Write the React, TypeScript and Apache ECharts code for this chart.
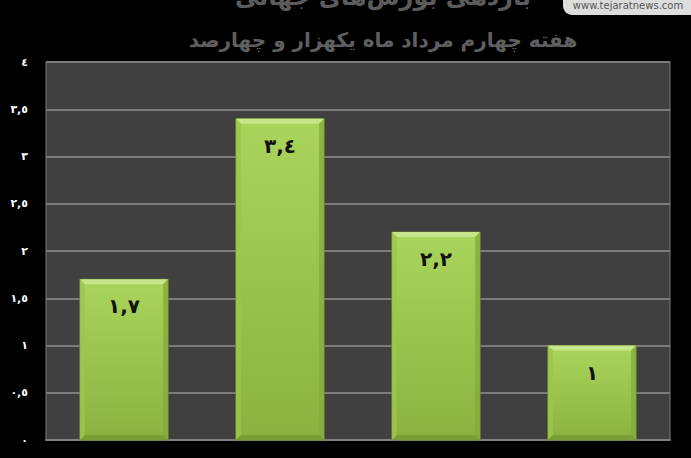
import React, { useEffect, useRef } from "react";
import * as echarts from "echarts";

const categories = ["c1", "c2", "c3", "c4"];
const values = [1.7, 3.4, 2.2, 1];
const yTicks = { min: 0, max: 4, interval: 0.5 };
const titleTop = "بازدهی بورس‌های جهانی";
const subtitle = "هفته چهارم مرداد ماه یکهزار و چهارصد";
const logoText = "www.tejaratnews.com";

const AR = ["٠", "١", "٢", "٣", "٤", "٥", "٦", "٧", "٨", "٩"];
function toAr(n: number): string {
  return String(n)
    .split("")
    .map((c) => (c >= "0" && c <= "9" ? AR[Number(c)] : c === "." ? "," : c))
    .join("");
}

export default function App() {
  const ref = useRef<HTMLDivElement>(null);
  useEffect(() => {
    document.body.style.margin = "0";
    document.body.style.background = "#000";
    const chart = echarts.init(ref.current!, null, { renderer: "svg" });
    const renderItem = (params: any, api: any) => {
      const x = api.value(0);
      const v = api.value(1);
      const p0 = api.coord([x, 0]);
      const p1 = api.coord([x, v]);
      const bw = api.size([1, 0])[0] * 0.565;
      const l = p0[0] - bw / 2;
      const r = l + bw;
      const t = p1[1];
      const b = p0[1];
      const e = 5;
      return {
        type: "group",
        children: [
          {
            type: "rect",
            shape: { x: l, y: t, width: bw, height: b - t },
            style: {
              fill: new echarts.graphic.LinearGradient(0, 0, 0, 1, [
                { offset: 0, color: "#aad55c" },
                { offset: 1, color: "#8bb240" },
              ]),
              stroke: "#6f8f30",
              lineWidth: 1,
            },
          },
          {
            type: "polygon",
            shape: { points: [[l, t], [r, t], [r - e, t + e], [l + e, t + e]] },
            style: { fill: "#c6e68a" },
          },
          {
            type: "polygon",
            shape: { points: [[l, t], [l + e, t + e], [l + e, b - e], [l, b]] },
            style: { fill: "#9cc64e", opacity: 0.8 },
          },
          {
            type: "polygon",
            shape: { points: [[r, t], [r, b], [r - e, b - e], [r - e, t + e]] },
            style: { fill: "#86ad3c", opacity: 0.8 },
          },
          {
            type: "polygon",
            shape: { points: [[l, b], [r, b], [r - e, b - e], [l + e, b - e]] },
            style: { fill: "#7a9e35" },
          },
          {
            type: "text",
            style: {
              text: toAr(v),
              x: (l + r) / 2,
              y: t + 27,
              align: "center",
              verticalAlign: "middle",
              fill: "#111",
              font: "bold 20px 'DejaVu Sans'",
            },
          },
        ],
      };
    };
    chart.setOption({
      animation: false,
      backgroundColor: "#000",
      grid: {
        left: 46,
        right: 21,
        top: 62,
        bottom: 18,
        show: true,
        backgroundColor: "#404040",
        borderColor: "#7a7a7a",
        borderWidth: 1,
      },
      xAxis: {
        type: "category",
        data: categories,
        axisLabel: { show: false },
        axisTick: { show: false },
        axisLine: { lineStyle: { color: "#808080", width: 2 } },
      },
      yAxis: {
        type: "value",
        min: yTicks.min,
        max: yTicks.max,
        interval: yTicks.interval,
        axisLine: { show: false },
        axisTick: { show: false },
        splitLine: { lineStyle: { color: "#7c7c7c", width: 2 } },
        axisLabel: {
          margin: 18,
          color: "#ffffff",
          fontWeight: "bold",
          fontSize: 11,
          fontFamily: "DejaVu Sans",
          formatter: (val: number) => toAr(val),
        },
      },
      series: [
        {
          type: "custom",
          renderItem,
          data: values.map((v, i) => [i, v]),
        },
      ],
      graphic: [
        {
          type: "text",
          style: {
            text: titleTop,
            x: 383,
            y: -3,
            align: "center",
            verticalAlign: "middle",
            fill: "#5c5c5c",
            font: "bold 24px 'DejaVu Sans'",
          },
        },
        {
          type: "text",
          style: {
            text: subtitle,
            x: 383,
            y: 40,
            align: "center",
            verticalAlign: "middle",
            fill: "#5f5f5f",
            font: "bold 20px 'DejaVu Sans'",
          },
        },
        {
          type: "rect",
          shape: { x: 563, y: -12, width: 140, height: 27, r: 9 },
          style: { fill: "#dddddd" },
        },
        {
          type: "text",
          style: {
            text: logoText,
            x: 628,
            y: 5,
            align: "center",
            verticalAlign: "middle",
            fill: "#555555",
            font: "10px 'DejaVu Sans'",
          },
        },
      ],
    });
    return () => chart.dispose();
  }, []);
  return <div ref={ref} style={{ width: 691, height: 458 }} />;
}
